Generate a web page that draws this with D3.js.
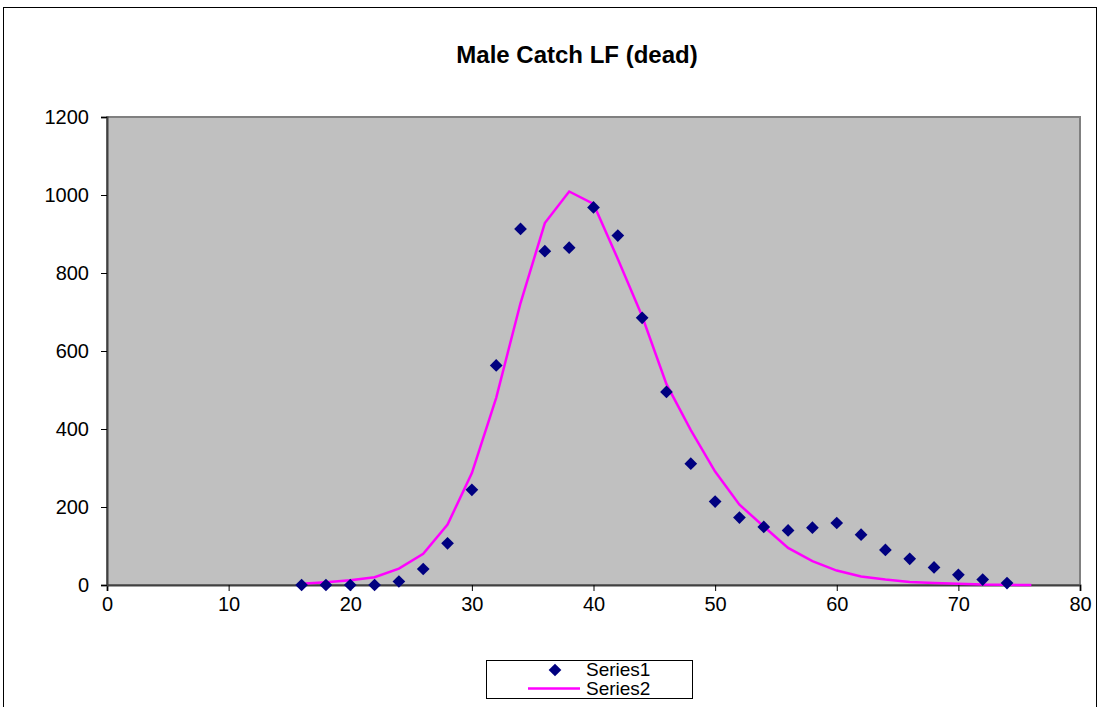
<!DOCTYPE html>
<html>
<head>
<meta charset="utf-8">
<script src="https://cdn.jsdelivr.net/npm/d3@7"></script>
<style>
body{margin:0;background:#fff;}
text{font-family:"Liberation Sans",Arial,sans-serif;}
</style>
</head>
<body>
<div id="chart"></div>
<script>
// data
var lengths1 = [16,18,20,22,24,26,28,30,32,34,36,38,40,42,44,46,48,50,52,54,56,58,60,62,64,66,68,70,72,74];
var series1 = [0,0,0,0,9,41,107,244,563,913,856,865,968,896,685,495,311,214,173,149,140,147,159,129,90,67,45,26,14,5];
var lengths2 = [16,18,20,22,24,26,28,30,32,34,36,38,40,42,44,46,48,50,52,54,56,58,60,62,64,66,68,70,72,74,76];
var series2 = [3,7,12,20,42,80,155,287,480,723,928,1009,977,836,689,515,397,291,206,150,95,61,37,22,14,8,5,3,1,0.5,0];
var xTicks = [0,10,20,30,40,50,60,70,80];
var yTicks = [0,200,400,600,800,1000,1200];
var legendNames = ["Series1","Series2"];

var width = 1100;
var height = 707;
var plot = {left:107, right:1080, top:117, bottom:585};

var svg = d3.select("#chart")
    .append("svg")
    .attr("width", width)
    .attr("height", height);

// outer chart frame
svg.append("rect")
    .attr("x",3.5).attr("y",7.5)
    .attr("width",1093).attr("height",730)
    .attr("fill","#fff")
    .attr("stroke","#000")
    .attr("stroke-width",1);

svg.append("text")
    .attr("x",577).attr("y",63)
    .attr("text-anchor","middle")
    .style("font-size","24px")
    .style("font-weight","bold")
    .text("Male Catch LF (dead)");

var xScale = d3.scaleLinear()
    .domain([0,80])
    .range([plot.left, plot.right]);
var yScale = d3.scaleLinear()
    .domain([0,1200])
    .range([plot.bottom, plot.top]);

// plot area
svg.append("rect")
    .attr("x",plot.left).attr("y",plot.top)
    .attr("width",plot.right-plot.left)
    .attr("height",plot.bottom-plot.top)
    .attr("fill","#c0c0c0")
    .attr("stroke","#808080")
    .attr("stroke-width",2);

//x-axis
var xAxis = d3.axisBottom(xScale)
    .tickValues(xTicks)
    .tickSize(6)
    .tickPadding(6)
    .tickFormat(d3.format("d"));
var gx = svg.append("g")
    .attr("transform","translate(0," + plot.bottom + ")")
    .call(xAxis);

//y-axis
var yAxis = d3.axisLeft(yScale)
    .tickValues(yTicks)
    .tickSize(6)
    .tickPadding(12)
    .tickFormat(d3.format("d"));
var gy = svg.append("g")
    .attr("transform","translate(" + plot.left + ",0)")
    .call(yAxis);

[gx,gy].forEach(function(g){
    g.select(".domain").attr("stroke","#404040").attr("stroke-width",2);
    g.selectAll(".tick line").attr("stroke","#000");
    g.selectAll(".tick text")
        .attr("fill","#000")
        .style("font-size","20px")
        .style("font-family","'Liberation Sans',Arial,sans-serif");
});

// fitted line
var line = d3.line()
    .x(function(d,i){ return xScale(lengths2[i]); })
    .y(function(d){ return yScale(d); });
svg.append("path")
    .datum(series2)
    .attr("fill","none")
    .attr("stroke","#ff00ff")
    .attr("stroke-width",2.5)
    .attr("d",line);

// observed points
var diamond = d3.symbol().type(d3.symbolSquare).size(81);
svg.selectAll(".pt")
    .data(series1)
    .enter()
    .append("path")
    .attr("class","pt")
    .attr("d",diamond)
    .attr("transform",function(d,i){
        return "translate(" + xScale(lengths1[i]) + "," + yScale(d) + ") rotate(45)";
    })
    .attr("fill","#000080");

// legend
var lg = svg.append("g");
lg.append("rect")
    .attr("x",486.5).attr("y",660.5)
    .attr("width",206).attr("height",38)
    .attr("fill","#fff")
    .attr("stroke","#000")
    .attr("stroke-width",1);
lg.append("path")
    .attr("d",diamond)
    .attr("transform","translate(555,670) rotate(45)")
    .attr("fill","#000080");
lg.append("line")
    .attr("x1",528).attr("x2",580)
    .attr("y1",688.5).attr("y2",688.5)
    .attr("stroke","#ff00ff")
    .attr("stroke-width",2.5);
lg.selectAll(".lgtext")
    .data(legendNames)
    .enter()
    .append("text")
    .attr("class","lgtext")
    .attr("x",586)
    .attr("y",function(d,i){ return 676 + i*19; })
    .style("font-size","19px")
    .text(function(d){ return d; });
</script>
</body>
</html>
